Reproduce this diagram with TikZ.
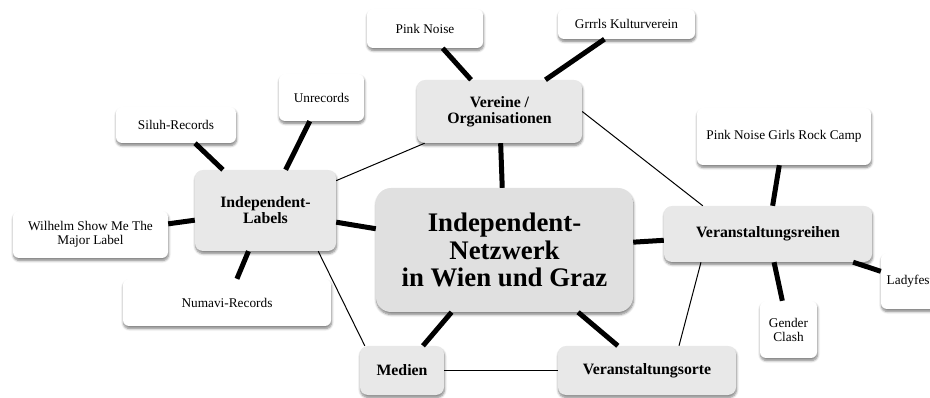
\documentclass[tikz,border=0pt]{standalone}
\usepackage{fontspec}
\setmainfont{Liberation Serif}
\usetikzlibrary{shadows.blur}
\definecolor{catfill}{HTML}{E8E8E8}
\definecolor{hubfill}{HTML}{E0E0E0}
\begin{document}
\begin{tikzpicture}[x=1pt,y=-1pt,
  base/.style={rectangle, draw=none, inner sep=0pt, align=center,
    blur shadow={shadow xshift=0.5pt, shadow yshift=-2.5pt, shadow blur steps=6, shadow blur radius=2.5pt, shadow opacity=50}},
  leaf/.style={base, fill=white, rounded corners=6pt, font=\fontsize{13.3}{14}\selectfont},
  cat/.style={base, fill=catfill, rounded corners=8pt, font=\fontsize{15.8}{16}\selectfont\bfseries},
  hub/.style={base, fill=hubfill, rounded corners=15pt, font=\fontsize{26.8}{27.5}\selectfont\bfseries},
  strong/.style={line width=5pt},
  weak/.style={line width=1pt}
]
\useasboundingbox (0,0) rectangle (930,398);
\clip (0,0) rectangle (930,398);

% central and category nodes
\node[hub, minimum width=257pt, minimum height=124pt] (ce) at (504.5,250) {Independent-\\Netzwerk\\in Wien und Graz};
\node[cat, minimum width=165pt, minimum height=63pt] (ve) at (499.5,111.5) {Vereine /\\Organisationen};
\node[cat, minimum width=141pt, minimum height=81pt] (il) at (265.5,210.5) {Independent-\\Labels};
\node[cat, minimum width=208pt, minimum height=56pt] (vr) at (768,234) {Veranstaltungsreihen};
\node[cat, minimum width=84pt, minimum height=49pt] (me) at (402,370.5) {Medien};
\node[cat, minimum width=178pt, minimum height=49pt] (vo) at (647,370.5) {Veranstaltungsorte};

% leaf nodes
\node[leaf, minimum width=116pt, minimum height=39pt] (pn) at (425,28.5) {Pink Noise};
\node[leaf, minimum width=137pt, minimum height=30pt] (gk) at (626.5,24) {Grrrls Kulturverein};
\node[leaf, minimum width=85pt, minimum height=47pt] (ur) at (321.5,97.5) {Unrecords};
\node[leaf, minimum width=120pt, minimum height=36pt] (sr) at (176,125) {Siluh-Records};
\node[leaf, minimum width=155pt, minimum height=47pt] (wh) at (90.5,234.5) {Wilhelm Show Me The\\Major Label};
\node[leaf, minimum width=208pt, minimum height=47pt] (nr) at (227,302.5) {Numavi-Records};
\node[leaf, minimum width=174pt, minimum height=57pt] (pg) at (784,136.5) {Pink Noise Girls Rock Camp};
\node[leaf, minimum width=58pt, minimum height=56pt] (lf) at (910,281) {Ladyfest};
\node[leaf, minimum width=57pt, minimum height=57pt] (gc) at (788.5,329.5) {Gender\\Clash};

% thick connectors
\draw[strong] (pn) -- (ve);
\draw[strong] (gk) -- (ve);
\draw[strong] (ur) -- (il);
\draw[strong] (sr) -- (il);
\draw[strong] (wh) -- (il);
\draw[strong] (nr) -- (il);
\draw[strong] (il) -- (ce);
\draw[strong] (ve) -- (ce);
\draw[strong] (ce) -- (vr);
\draw[strong] (ce) -- (me);
\draw[strong] (ce) -- (vo);
\draw[strong] (pg) -- (vr);
\draw[strong] (vr) -- (gc);
\draw[strong] (vr) -- (lf);

% thin connectors
\draw[weak] (il) -- (ve);
\draw[weak] (ve.east) -- ([xshift=39pt]vr.north west);
\draw[weak] ([xshift=-18pt]il.south east) -- ([xshift=5pt]me.north west);
\draw[weak] (me) -- (vo);
\draw[weak] ([xshift=32pt]vo.north) -- ([xshift=-67pt]vr.south);
\end{tikzpicture}
\end{document}
